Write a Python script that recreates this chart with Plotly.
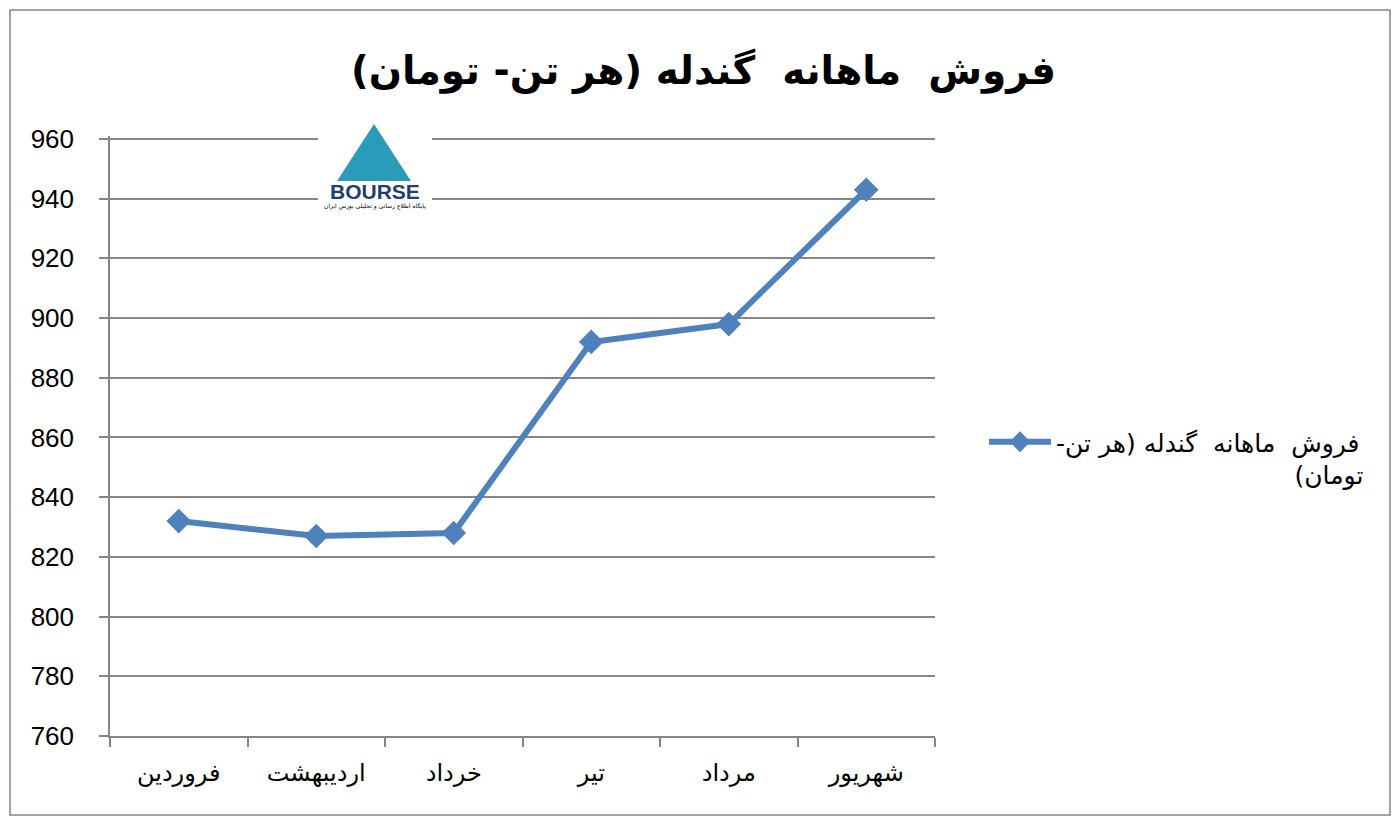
import plotly.graph_objects as go

months = ["فروردین", "اردیبهشت", "خرداد", "تیر", "مرداد", "شهریور"]
sales = [832, 827, 828, 892, 898, 943]
y_ticks = [760, 780, 800, 820, 840, 860, 880, 900, 920, 940, 960]
RLM = "\u200F"
NBSP = "\u00a0"
series_name = (RLM + "فروش  ماهانه  گندله (هر تن-" + RLM + "<br>" + RLM
               + "تومان)" + NBSP * 30 + RLM)
title_text = "فروش  ماهانه  گندله (هر تن- تومان)"

blue = "#4F81BD"
grid = "#868686"

# plot area in page pixels (page has 8px body margin)
PX0, PX1, PY0, PY1 = 110, 935, 136, 736
PW, PH = PX1 - PX0, PY1 - PY0


def px(x):
    return (x - PX0) / PW


def py(y):
    return (PY1 - y) / PH


fig = go.Figure()
fig.add_trace(go.Scatter(
    x=months, y=sales, mode="lines+markers", name=series_name,
    line=dict(color=blue, width=6),
    marker=dict(symbol="diamond", size=19, color=blue),
))

fig.update_layout(
    width=1391, height=823,
    paper_bgcolor="white", plot_bgcolor="white",
    margin=dict(l=102, r=464, t=128, b=95),
    title=dict(text="<b>" + title_text + "</b>", x=0.5, xanchor="center",
               y=1 - 62 / 823, yanchor="middle",
               font=dict(family="DejaVu Sans", size=39, color="black")),
    font=dict(family="Liberation Sans, DejaVu Sans", color="black"),
    showlegend=True,
    legend=dict(x=px(984), y=py(458), xanchor="left", yanchor="middle",
                valign="top",
                font=dict(family="DejaVu Sans", size=25, color="black"),
                itemwidth=62, bgcolor="rgba(0,0,0,0)"),
    xaxis=dict(
        type="category", range=[-0.5, 5.5], tickson="boundaries",
        ticks="outside", ticklen=9, tickcolor=grid, tickwidth=1.5,
        showline=True, linecolor=grid, linewidth=1.5, showgrid=False,
        tickfont=dict(family="DejaVu Sans", size=24, color="black"),
        ticklabelstandoff=14,
    ),
    yaxis=dict(
        range=[760, 961], tickvals=y_ticks,
        ticks="outside", ticklen=9, tickcolor=grid, tickwidth=1.5,
        showline=True, linecolor=grid, linewidth=1.5,
        showgrid=True, gridcolor=grid, gridwidth=1.5, zeroline=False,
        tickfont=dict(family="Liberation Sans", size=26, color="black"),
        ticklabelstandoff=20,
    ),
)

# outer chart border
fig.add_shape(type="rect", xref="paper", yref="paper",
              x0=px(10), x1=px(1390), y0=py(815), y1=py(10),
              line=dict(color=grid, width=1.5))

# logo approximation
fig.add_shape(type="rect", xref="paper", yref="paper",
              x0=px(318), x1=px(432), y0=py(215), y1=py(105),
              fillcolor="white", line=dict(width=0), layer="above")
fig.add_shape(type="path", xref="paper", yref="paper",
              path="M %f %f L %f %f L %f %f Z" % (
                  px(374), py(124), px(337), py(181), px(411), py(181)),
              fillcolor="#2A9BB8", line=dict(width=0), layer="above")
fig.add_annotation(xref="paper", yref="paper", x=px(375), y=py(191),
                   xanchor="center", yanchor="middle",
                   text="<b>BOURSE</b>", showarrow=False,
                   font=dict(family="Liberation Sans", size=21, color="#1f3f6f"))
fig.add_annotation(xref="paper", yref="paper", x=px(375), y=py(206),
                   xanchor="center", yanchor="middle",
                   text="پایگاه اطلاع رسانی و تحلیلی بورس ایران", showarrow=False,
                   font=dict(family="DejaVu Sans", size=6, color="black"))

fig.write_html("out.html")
